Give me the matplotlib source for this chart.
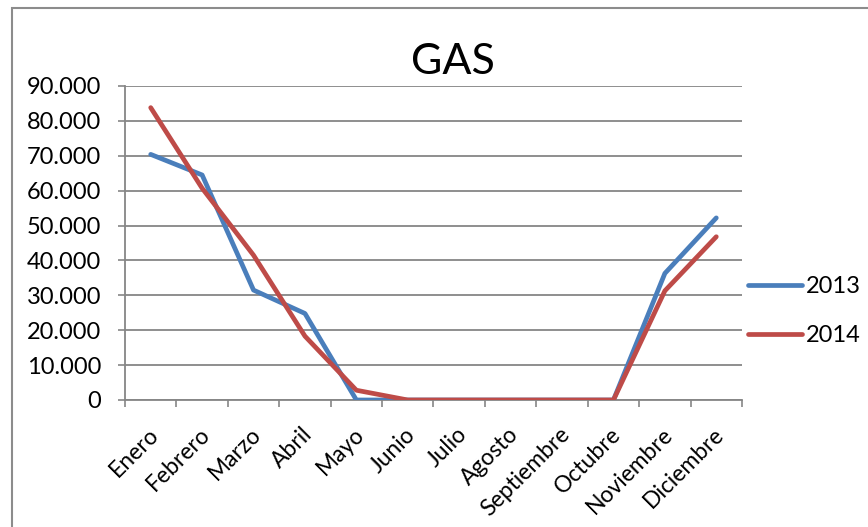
import matplotlib

matplotlib.use("Agg")

import matplotlib.pyplot as plt
from matplotlib.patches import Rectangle
from matplotlib.ticker import FuncFormatter, MultipleLocator
from matplotlib.transforms import ScaledTranslation

MONTHS = ["Enero", "Febrero", "Marzo", "Abril", "Mayo", "Junio", "Julio",
          "Agosto", "Septiembre", "Octubre", "Noviembre", "Diciembre"]
GAS_2013 = [70400, 64500, 31500, 24800, 0, 0, 0, 0, 0, 0, 36300, 52200]
GAS_2014 = [83800, 60700, 41500, 18300, 2800, 0, 0, 0, 0, 0, 31300, 46800]

COLORS = {"2013": "#4a7ebb", "2014": "#be4b48", "grid": "#868686"}

plt.rcParams["font.family"] = ["Lato", "DejaVu Sans"]

W, H = 868, 527
fig = plt.figure(figsize=(W / 100, H / 100), dpi=100)
ax = fig.add_axes([125 / W, 1 - 400 / H, 617 / W, 314 / H])

x = range(len(MONTHS))
for label, values in (("2013", GAS_2013), ("2014", GAS_2014)):
    ax.plot(x, values, color=COLORS[label], lw=3.4, label=label,
            solid_capstyle="round", solid_joinstyle="round", zorder=3)

ax.set_xlim(-0.5, len(MONTHS) - 0.5)
ax.set_ylim(0, 90000)
ax.yaxis.set_major_locator(MultipleLocator(10000))
ax.yaxis.set_major_formatter(
    FuncFormatter(lambda v, _: f"{v:,.0f}".replace(",", ".")))
ax.grid(axis="y", color=COLORS["grid"], lw=1.3)
ax.set_axisbelow(True)

ax.set_xticks(list(x))
ax.set_xticklabels(MONTHS, rotation=45, ha="right", va="top",
                   rotation_mode="anchor")
ax.set_xticks([i - 0.5 for i in range(len(MONTHS) + 1)], minor=True)
ax.tick_params(axis="x", which="major", length=0, pad=17, labelsize=16.5)
ax.tick_params(axis="x", which="minor", length=5, width=1.2,
               color=COLORS["grid"])
ax.tick_params(axis="y", length=5, width=1.2, color=COLORS["grid"],
               labelsize=17, pad=12)

# nudge the slanted month names a little to the left
shift = ScaledTranslation(-3 / 100, 0, fig.dpi_scale_trans)
for tick_label in ax.get_xticklabels():
    tick_label.set_transform(tick_label.get_transform() + shift)

for side in ("top", "right"):
    ax.spines[side].set_visible(False)
for side in ("left", "bottom"):
    ax.spines[side].set_color(COLORS["grid"])
    ax.spines[side].set_linewidth(1.3)

fig.text(453 / W, 1 - 62 / H, "GAS", fontsize=31, ha="center", va="center")

ax.legend(loc="center left", bbox_to_anchor=(748 / W, 1 - 311 / H),
          bbox_transform=fig.transFigure, frameon=False, fontsize=17,
          handlelength=2.3, handletextpad=0.17, labelspacing=1.2,
          borderaxespad=0, borderpad=0)

# outer chart frame, running off the right and bottom edges
fig.patches.append(Rectangle((12 / W, -0.1), 1.2, 1 - 8 / H + 0.1,
                             transform=fig.transFigure, fill=False,
                             edgecolor="#8c8c8c", lw=1.5))

fig.savefig("out.png", dpi=100)
